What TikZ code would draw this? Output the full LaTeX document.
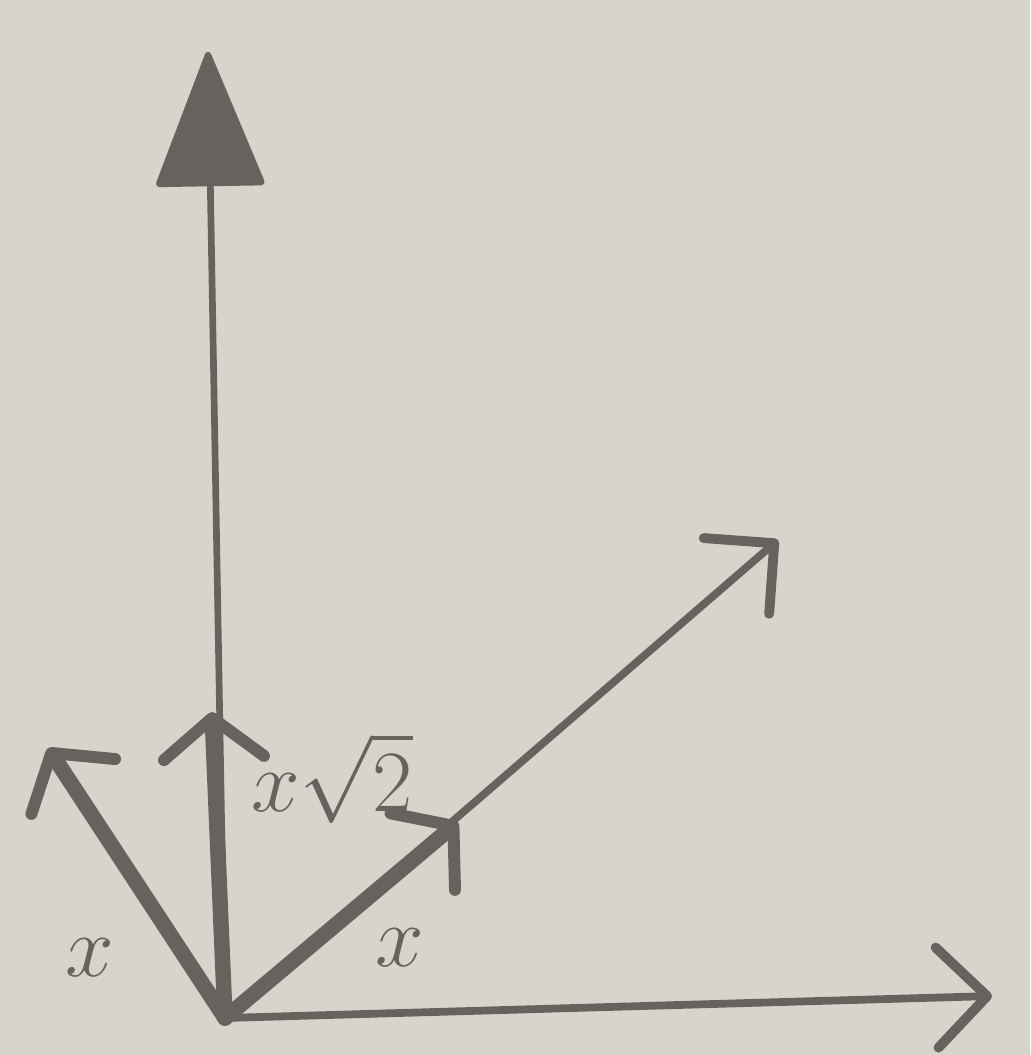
\documentclass[tikz,border=0pt]{standalone}
\usepackage{amsmath}
\usetikzlibrary{arrows.meta,positioning,calc}
\definecolor{paper}{HTML}{D8D4CC}
\definecolor{pencil}{HTML}{67625D}
\tikzset{
axis/.style={line width=2.2pt,draw=pencil,line cap=round},
openhead/.style={-{Straight Barb[length=5mm,width=10mm,line width=2.8pt,round]}},
vec/.style={axis,line width=4.4pt,-{Straight Barb[length=4mm,width=10mm,line width=3.4pt,round]}},
tag/.style={text=pencil,inner sep=0pt,font=\fontsize{34}{34}\selectfont}}
\begin{document}
\begin{tikzpicture}[x=0.01cm,y=-0.01cm]
\useasboundingbox[fill=paper] (0,0) rectangle (1030,1055);
\coordinate (o) at (225,1018);
\coordinate (ytop) at (208,52);
\coordinate (xend) at (992,996);
\coordinate (diag) at (778,540);
\coordinate (u) at (458,822);
\coordinate (v) at (48,748);
\coordinate (w) at (212,712);
% axes
\draw[axis,line width=1.9pt,-{Triangle[length=14mm,width=11mm,round]}] (o) -- (ytop);
\draw[axis,openhead] (o) -- (xend);
\draw[axis,openhead] (o) -- (diag);
% short vectors
\draw[vec] (o) -- (u);
\draw[vec] (o) -- (v);
\draw[vec] (o) -- (w);
\node[tag] (lxa) at (90,958) {$x$};
\node[tag] (lxb) at (400,948) {$x$};
\node[tag,font=\fontsize{30}{30}\selectfont] (lxr) at (332,778) {$x\sqrt{2}$};
\end{tikzpicture}
\end{document}
